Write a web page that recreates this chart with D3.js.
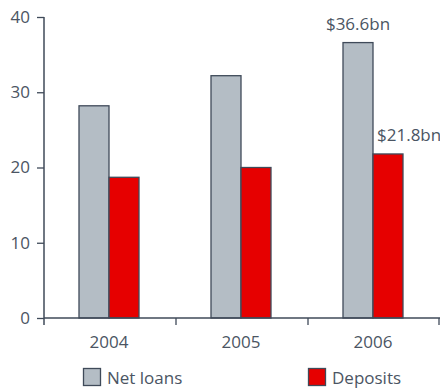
<!DOCTYPE html>
<html>
<head>
<meta charset="utf-8">
<script src="https://cdn.jsdelivr.net/npm/d3@7"></script>
<style>
  html, body { margin: 0; padding: 0; background: #fff; }
  svg { display: block; font-family: "Open Sans", "Noto Sans", sans-serif; }
</style>
</head>
<body>
<svg id="chart" width="440" height="388"></svg>
<script>
// Net loans and deposits, $bn
const years = ["2004", "2005", "2006"];
const seriesNames = ["Net loans", "Deposits"];
const netLoans = [28.2, 32.2, 36.6];
const deposits = [18.7, 20.0, 21.8];
const yTicks = [0, 10, 20, 30, 40];
const valueLabels = [
  { series: "Net loans", year: "2006", text: "$36.6bn" },
  { series: "Deposits", year: "2006", text: "$21.8bn" }
];

const colors = { "Net loans": "#b4bdc5", "Deposits": "#e60000" };
const ink = "#3f4a59";
const textColor = "#4b5563";
const fontSize = "17px";

const svg = d3.select("#chart");
const margin = { left: 44, right: 0, top: 17, bottom: 70 };
const W = 440, H = 388;
const plotBottom = H - margin.bottom;

const x = d3.scaleBand().domain(years).range([margin.left, W - margin.right]);
const xInner = d3.scaleBand().domain(seriesNames).range([-31, 29]);
const y = d3.scaleLinear().domain([0, 40]).range([plotBottom, margin.top]);

const data = years.map((yr, i) => ({ year: yr, values: { "Net loans": netLoans[i], "Deposits": deposits[i] } }));

// bars
const groups = svg.append("g").selectAll("g").data(data).join("g")
  .attr("transform", d => `translate(${x(d.year) + x.bandwidth() / 2},0)`);
groups.selectAll("rect").data(d => seriesNames.map(s => ({ s, v: d.values[s] }))).join("rect")
  .attr("x", d => xInner(d.s))
  .attr("width", xInner.bandwidth())
  .attr("y", d => y(d.v))
  .attr("height", d => y(0) - y(d.v))
  .attr("fill", d => colors[d.s])
  .attr("stroke", ink)
  .attr("stroke-width", 1.3);

// y axis
const yAxis = d3.axisLeft(y).tickValues(yTicks).tickSize(7).tickPadding(7).tickFormat(d3.format("d"));
const gy = svg.append("g").attr("transform", `translate(${margin.left},0)`).call(yAxis);
gy.select(".domain").remove();
gy.append("line").attr("x1", 0).attr("x2", 0).attr("y1", y(40)).attr("y2", plotBottom + 7)
  .attr("stroke", ink).attr("stroke-width", 1.5);
gy.selectAll(".tick line").attr("stroke", ink).attr("stroke-width", 1.3);
gy.selectAll(".tick text").attr("fill", textColor).style("font-size", fontSize)
  .style("font-family", "'Open Sans', sans-serif");

// x axis: baseline with ticks at category boundaries
const gx = svg.append("g").attr("transform", `translate(0,${plotBottom})`);
gx.append("line").attr("x1", margin.left).attr("x2", W).attr("y1", 0).attr("y2", 0)
  .attr("stroke", ink).attr("stroke-width", 1.5);
const bounds = years.map(yr => x(yr)).concat([x(years[years.length - 1]) + x.bandwidth()]);
gx.selectAll("line.b").data(bounds.slice(1)).join("line").attr("class", "b")
  .attr("x1", d => Math.min(d, W - 1)).attr("x2", d => Math.min(d, W - 1))
  .attr("y1", 0).attr("y2", 7).attr("stroke", ink).attr("stroke-width", 1.3);
gx.selectAll("text").data(years).join("text")
  .attr("x", d => x(d) + x.bandwidth() / 2 - 1)
  .attr("y", 30)
  .attr("text-anchor", "middle")
  .attr("fill", textColor)
  .style("font-size", fontSize)
  .text(d => d);

// value labels
const lookup = { "Net loans": netLoans, "Deposits": deposits };
svg.selectAll("text.val").data(valueLabels).join("text").attr("class", "val")
  .attr("x", d => {
    const cx = x(d.year) + x.bandwidth() / 2 + xInner(d.series);
    return d.series === "Net loans" ? cx + xInner.bandwidth() / 2 : cx + 4;
  })
  .attr("y", d => y(lookup[d.series][years.indexOf(d.year)]) - 13)
  .attr("text-anchor", d => d.series === "Net loans" ? "middle" : "start")
  .attr("fill", textColor)
  .style("font-size", fontSize)
  .text(d => d.text);

// legend
const legendX = { "Net loans": 83, "Deposits": 308 };
const lg = svg.append("g").selectAll("g").data(seriesNames).join("g")
  .attr("transform", d => `translate(${legendX[d]},368)`);
lg.append("rect").attr("x", 0.5).attr("y", 0.5).attr("width", 17).attr("height", 17)
  .attr("fill", d => colors[d]).attr("stroke", ink).attr("stroke-width", 1.3);
lg.append("text").attr("x", 24).attr("y", 16)
  .attr("fill", textColor).style("font-size", fontSize).text(d => d);
</script>
</body>
</html>
